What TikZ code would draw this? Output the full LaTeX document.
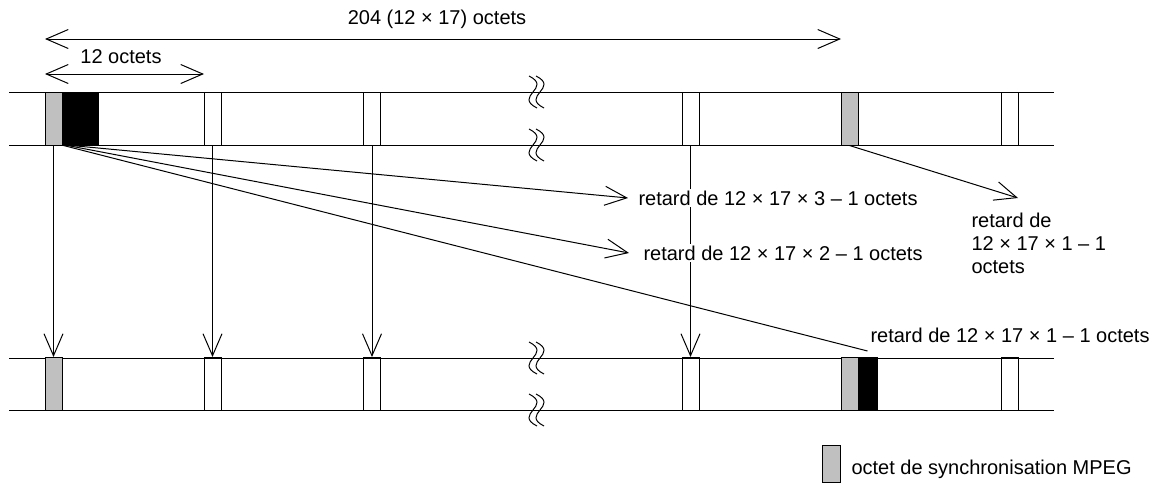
\documentclass[tikz,border=0pt]{standalone}
\usepackage{fontspec}
\setmainfont{Liberation Sans}
\usepackage{tikz}
\usetikzlibrary{arrows.meta,calc}

\definecolor{syncgray}{RGB}{192,192,192}
\tikzset{
  octet/.style={draw,line width=0.5pt,inner sep=0pt,minimum width=8.5pt,minimum height=26.5pt},
  lbl/.style={inner xsep=2pt,inner ysep=1pt,fill=white},
  fleche/.style={line width=0.5pt,-{Straight Barb[length=11pt,width=9.5pt,line width=0.5pt]}},
  cote/.style={line width=0.5pt,{Straight Barb[length=11pt,width=9.5pt,line width=0.5pt]}-{Straight Barb[length=11pt,width=9.5pt,line width=0.5pt]}}
}

\begin{document}
\begin{tikzpicture}[x=0.5pt,y=-0.5pt,line width=0.5pt,font=\fontsize{10}{11.5}\selectfont]
\useasboundingbox (0,0) rectangle (1163,499);

% bandes
\draw (9,92)--(1054,92); \draw (9,145)--(1054,145);
\draw (9,358)--(1054,358); \draw (9,410)--(1054,410);

% coupures
\foreach \y in {92,145,358,410}{
  \foreach \x in {529,536}{
    \draw (\x,\y-16) .. controls (\x+24,\y-4) and (\x-16,\y+4) .. (\x+8,\y+16);
  }
}

% octets, trame du haut
\node[octet,fill=syncgray] (ts1) at (53.5,118.5) {};
\node[octet,fill=black,minimum width=18pt] (tb) at (80,118.5) {};
\node[octet] (tw1) at (212.5,118.5) {};
\node[octet] (tw2) at (372,118.5) {};
\node[octet] (tw3) at (690.5,118.5) {};
\node[octet,fill=syncgray] (ts2) at (849.5,118.5) {};
\node[octet] (tw4) at (1010,118.5) {};

% octets, trame du bas
\node[octet,fill=syncgray] (bs1) at (53.5,384) {};
\node[octet] (bw1) at (212.5,384) {};
\node[octet] (bw2) at (372,384) {};
\node[octet] (bw3) at (690.5,384) {};
\node[octet,fill=syncgray] (bs2) at (849.5,384) {};
\node[octet,fill=black,minimum width=9.5pt] (bb) at (867.5,384) {};
\node[octet] (bw4) at (1010,384) {};

% cotes
\coordinate (c1a) at (45,39); \coordinate (c1b) at (841,39);
\coordinate (c2a) at (45,74); \coordinate (c2b) at (204,74);
\draw[cote] (c1a) -- (c1b);
\draw[cote] (c2a) -- (c2b);
\node (n204) at (437,19) {204 (12 × 17) octets};
\node (n12) at (121,57) {12 octets};

% fleches verticales
\draw[fleche] (ts1.south) -- (bs1.north);
\draw[fleche] (tw1.south) -- (bw1.north);
\draw[fleche] (tw2.south) -- (bw2.north);
\draw[fleche] (tw3.south) -- (bw3.north);

% retards
\coordinate (p3) at (628,198);
\coordinate (p2) at (629,253);
\coordinate (p1) at (1018,198);
\draw[fleche] ([xshift=5pt]tb.south west) -- (p3);
\draw[fleche] ([xshift=3pt]tb.south west) -- (p2);
\draw ([xshift=1pt]tb.south west) -- ([yshift=3pt]bb.north);
\draw[fleche] (ts2.south) -- (p1);

\node[lbl,anchor=west] (r3) at (634,198) {retard de 12 × 17 × 3 – 1 octets};
\node[lbl,anchor=west] (r2) at (639,253) {retard de 12 × 17 × 2 – 1 octets};
\node[lbl,anchor=west] (r1) at (866,335) {retard de 12 × 17 × 1 – 1 octets};
\node[anchor=west,align=left,inner sep=2pt] (r1b) at (967,243) {retard de\\12 × 17 × 1 – 1\\octets};

% legende
\node[octet,fill=syncgray,minimum width=9pt,minimum height=18.5pt] (leg) at (831.5,463.5) {};
\node[anchor=west,inner sep=3pt] (legt) at (845,469) {octet de synchronisation MPEG};
\end{tikzpicture}
\end{document}
